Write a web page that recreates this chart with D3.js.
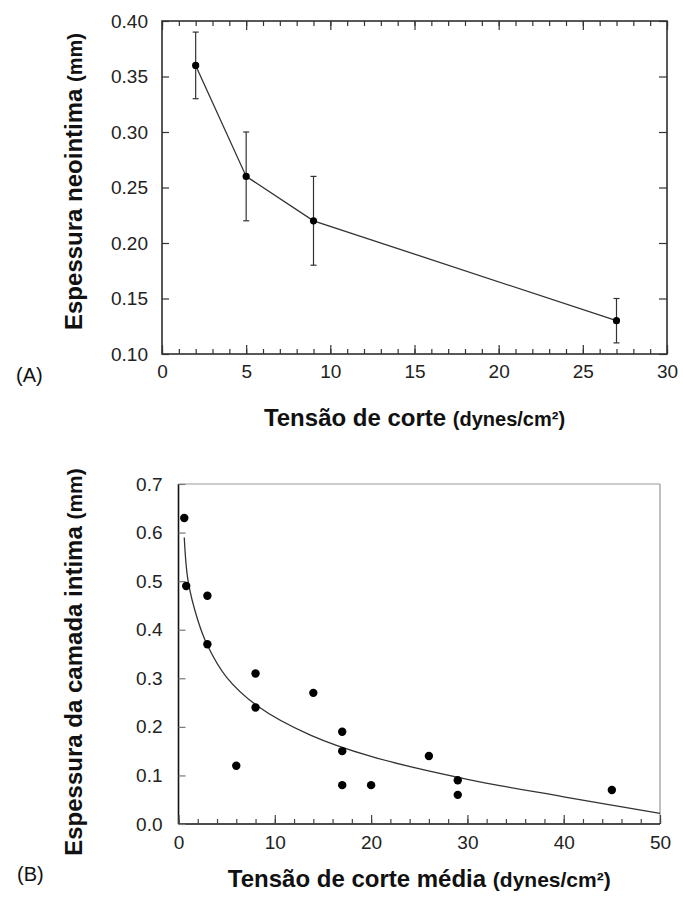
<!DOCTYPE html>
<html>
<head>
<meta charset="utf-8">
<script src="https://cdn.jsdelivr.net/npm/d3@7"></script>
<style>
  body { margin: 0; background: #fff; }
  svg text { font-family: "Liberation Sans", Arial, sans-serif; }
</style>
</head>
<body>
<div id="chart"></div>
<script>
//panel A: mean neointima thickness with error bars
const shearA = [2, 5, 9, 27];
const thickA = [0.36, 0.26, 0.22, 0.13];
const errLowA = [0.33, 0.22, 0.18, 0.11];
const errHighA = [0.39, 0.30, 0.26, 0.15];
const xTicksA = [0, 5, 10, 15, 20, 25, 30];
const yTicksA = [0.10, 0.15, 0.20, 0.25, 0.30, 0.35, 0.40];

//panel B: individual measurements
const shearB = [0.6, 0.8, 3, 3, 6, 8, 8, 14, 17, 17, 17, 20, 26, 29, 29, 45];
const thickB = [0.63, 0.49, 0.47, 0.37, 0.12, 0.31, 0.24, 0.27, 0.19, 0.15, 0.08, 0.08, 0.14, 0.09, 0.06, 0.07];

//fitted curve
const fitX = [0.6, 1, 2, 3, 5, 8.2, 13.7, 20, 30, 40, 50];
const fitY = [0.59, 0.5, 0.42, 0.368, 0.302, 0.243, 0.183, 0.139, 0.092, 0.056, 0.022];

const xTicksB = [0, 10, 20, 30, 40, 50];
const yTicksB = [0, 0.1, 0.2, 0.3, 0.4, 0.5, 0.6, 0.7];

const svg = d3.select("#chart")
  .append("svg")
  .attr("width", 683)
  .attr("height", 900);

//style axis groups: hide domain, set tick look
function styleAxis(g, color, size) {
  g.select(".domain").remove();
  g.selectAll(".tick line").attr("stroke", color).attr("stroke-width", 1.2);
  g.selectAll(".tick text")
    .attr("font-size", size || 19)
    .attr("fill", "#222");
}

// ---------- panel A ----------
const xA = d3.scaleLinear().domain([0, 30]).range([162, 667]);
const yA = d3.scaleLinear().domain([0.10, 0.40]).range([354, 21]);

svg.append("rect")
  .attr("x", xA(0)).attr("y", yA(0.40))
  .attr("width", xA(30) - xA(0)).attr("height", yA(0.10) - yA(0.40))
  .attr("fill", "none").attr("stroke", "#222").attr("stroke-width", 1.5);

const minorA = d3.range(0, 31, 1);

svg.append("g").attr("transform", `translate(0,${yA(0.10)})`)
  .call(d3.axisBottom(xA).tickValues(minorA).tickSize(-5).tickFormat(""))
  .call(g => styleAxis(g, "#333"));
svg.append("g").attr("transform", `translate(0,${yA(0.10)})`)
  .call(d3.axisBottom(xA).tickValues(xTicksA).tickSize(-9).tickPadding(11).tickFormat(d3.format("d")))
  .call(g => styleAxis(g, "#333"));

svg.append("g").attr("transform", `translate(0,${yA(0.40)})`)
  .call(d3.axisTop(xA).tickValues(minorA).tickSize(-5).tickFormat(""))
  .call(g => styleAxis(g, "#333"));
svg.append("g").attr("transform", `translate(0,${yA(0.40)})`)
  .call(d3.axisTop(xA).tickValues(xTicksA).tickSize(-9).tickFormat(""))
  .call(g => styleAxis(g, "#333"));

svg.append("g").attr("transform", `translate(${xA(0)},0)`)
  .call(d3.axisLeft(yA).tickValues(yTicksA).tickSize(-7).tickPadding(14).tickFormat(d3.format(".2f")))
  .call(g => styleAxis(g, "#333"));
svg.append("g").attr("transform", `translate(${xA(30)},0)`)
  .call(d3.axisRight(yA).tickValues(yTicksA).tickSize(-8).tickFormat(""))
  .call(g => styleAxis(g, "#333"));

const lineA = d3.line()
  .x(i => xA(shearA[i]))
  .y(i => yA(thickA[i]));

svg.append("path")
  .attr("d", lineA(d3.range(shearA.length)))
  .attr("fill", "none").attr("stroke", "#333").attr("stroke-width", 1.3);

const errA = svg.append("g").attr("stroke", "#333").attr("stroke-width", 1.2);
shearA.forEach((s, i) => {
  errA.append("line")
    .attr("x1", xA(s)).attr("x2", xA(s))
    .attr("y1", yA(errLowA[i])).attr("y2", yA(errHighA[i]));
  [errLowA[i], errHighA[i]].forEach(v => {
    errA.append("line")
      .attr("x1", xA(s) - 3).attr("x2", xA(s) + 3)
      .attr("y1", yA(v)).attr("y2", yA(v));
  });
});

svg.append("g").selectAll("circle")
  .data(shearA)
  .join("circle")
  .attr("cx", d => xA(d))
  .attr("cy", (d, i) => yA(thickA[i]))
  .attr("r", 3.6)
  .attr("fill", "#000");

//titles A
const titleXA = svg.append("text")
  .attr("x", (xA(0) + xA(30)) / 2).attr("y", 426)
  .attr("text-anchor", "middle")
  .attr("font-size", 24).attr("font-weight", "bold").attr("fill", "#111");
titleXA.append("tspan").text("Tensão de corte ");
titleXA.append("tspan").attr("font-size", 20).text("(dynes/cm²)");

const titleYA = svg.append("text")
  .attr("transform", `translate(82,${(yA(0.10) + yA(0.40)) / 2 - 6}) rotate(-90)`)
  .attr("text-anchor", "middle")
  .attr("font-size", 24).attr("font-weight", "bold").attr("fill", "#111");
titleYA.append("tspan").text("Espessura  neointima ");
titleYA.append("tspan").attr("font-size", 20).text("(mm)");

svg.append("text")
  .attr("x", 16).attr("y", 382)
  .attr("font-size", 20).attr("fill", "#111")
  .text("(A)");

// ---------- panel B ----------
const xB = d3.scaleLinear().domain([0, 50]).range([178.5, 660]);
const yB = d3.scaleLinear().domain([0, 0.7]).range([824, 484]);

//top and right frame lines are lighter
svg.append("line")
  .attr("x1", xB(0)).attr("x2", xB(50)).attr("y1", yB(0.7)).attr("y2", yB(0.7))
  .attr("stroke", "#999").attr("stroke-width", 1.2);
svg.append("line")
  .attr("x1", xB(50)).attr("x2", xB(50)).attr("y1", yB(0.7)).attr("y2", yB(0))
  .attr("stroke", "#aaa").attr("stroke-width", 1.5);
svg.append("line")
  .attr("x1", xB(0)).attr("x2", xB(0)).attr("y1", yB(0.7)).attr("y2", yB(0))
  .attr("stroke", "#111").attr("stroke-width", 1.6);
svg.append("line")
  .attr("x1", xB(0)).attr("x2", xB(50)).attr("y1", yB(0)).attr("y2", yB(0))
  .attr("stroke", "#111").attr("stroke-width", 1.6);

svg.append("g").attr("transform", `translate(0,${yB(0)})`)
  .call(d3.axisBottom(xB).tickValues(d3.range(0, 51, 2)).tickSize(-5).tickFormat(""))
  .call(g => styleAxis(g, "#444"));
svg.append("g").attr("transform", `translate(0,${yB(0)})`)
  .call(d3.axisBottom(xB).tickValues(xTicksB).tickSize(-9).tickPadding(12).tickFormat(d3.format("d")))
  .call(g => styleAxis(g, "#444"));

svg.append("g").attr("transform", `translate(${xB(0)},0)`)
  .call(d3.axisLeft(yB).tickValues(yTicksB).tickSize(-7).tickPadding(16).tickFormat(d3.format(".1f")))
  .call(g => styleAxis(g, "#777"));

//smooth curve through the sampled fit points
const fitLine = d3.line()
  .x(i => xB(fitX[i]))
  .y(i => yB(fitY[i]))
  .curve(d3.curveCatmullRom.alpha(0.5));

svg.append("path")
  .attr("d", fitLine(d3.range(fitX.length)))
  .attr("fill", "none").attr("stroke", "#333").attr("stroke-width", 1.3);

svg.append("g").selectAll("circle")
  .data(shearB)
  .join("circle")
  .attr("cx", d => xB(d))
  .attr("cy", (d, i) => yB(thickB[i]))
  .attr("r", 4.2)
  .attr("fill", "#000");

//titles B
const titleXB = svg.append("text")
  .attr("x", (xB(0) + xB(50)) / 2).attr("y", 887)
  .attr("text-anchor", "middle")
  .attr("font-size", 24).attr("font-weight", "bold").attr("fill", "#111");
titleXB.append("tspan").text("Tensão de corte média ");
titleXB.append("tspan").attr("font-size", 21).text("(dynes/cm²)");

const titleYB = svg.append("text")
  .attr("transform", `translate(82,${(yB(0) + yB(0.7)) / 2 + 8}) rotate(-90)`)
  .attr("text-anchor", "middle")
  .attr("font-size", 24).attr("font-weight", "bold").attr("fill", "#111");
titleYB.append("tspan").text("Espessura da camada intima ");
titleYB.append("tspan").attr("font-size", 21).text("(mm)");

svg.append("text")
  .attr("x", 17).attr("y", 881)
  .attr("font-size", 20).attr("fill", "#111")
  .text("(B)");
</script>
</body>
</html>
